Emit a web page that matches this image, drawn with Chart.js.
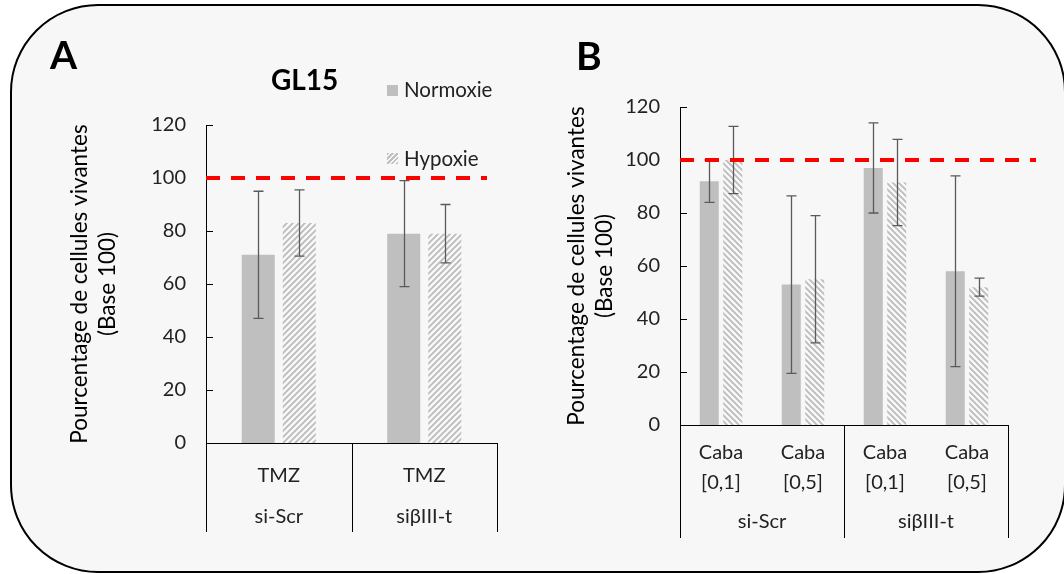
<!DOCTYPE html>
<html>
<head>
<meta charset="utf-8">
<script src="https://cdn.jsdelivr.net/npm/chart.js@4.4.0/dist/chart.umd.min.js"></script>
<style>
  body { margin: 0; background: #fff; font-family: Lato, sans-serif; }
  #wrap { position: relative; width: 1064px; height: 574px; overflow: hidden; }
  #frame { position: absolute; left: 10px; top: 4px; width: 1056px; height: 569px; box-sizing: border-box;
           border: 2.5px solid #000; border-radius: 88px; background: #f7f7f7; }
  .txt { position: absolute; line-height: 1; color: #000; white-space: nowrap; }
  .big { font-size: 39px; font-weight: bold; }
  .leg { font-size: 20.5px; color: #222; }
  .sw { position: absolute; width: 11px; height: 11px; }
  canvas { position: absolute; top: 0; }
</style>
</head>
<body>
<div id="wrap">
  <div id="frame"></div>
  <canvas id="chartA" width="530" height="574" style="left:0"></canvas>
  <canvas id="chartB" width="534" height="574" style="left:530px"></canvas>
  <div class="txt big" style="left:50px;top:35px">A</div>
  <div class="txt big" style="left:576px;top:36px">B</div>
  <div class="txt" style="left:271px;top:65px;font-size:28px;font-weight:bold">GL15</div>
  <div class="sw" style="left:387px;top:85px;background:#bfbfbf"></div>
  <div class="txt leg" style="left:404px;top:79px">Normoxie</div>
  <div class="sw" style="left:387px;top:153px;background:repeating-linear-gradient(135deg,#bfbfbf 0 1.5px,#f7f7f7 1.5px 3.5px)"></div>
  <div class="txt leg" style="left:404px;top:148px">Hypoxie</div>
</div>
<script>
// Panel A - GL15, TMZ
var catsA = ['TMZ', 'TMZ'];
var groupsA = ['si-Scr', 'siβIII-t'];
var normA = [71, 79];
var hypA = [83, 79];
var errNormA = [24, 20];
var errHypA = [12.5, 11];

// Panel B - Cabazitaxel
var catsB = [['Caba', '[0,1]'], ['Caba', '[0,5]'], ['Caba', '[0,1]'], ['Caba', '[0,5]']];
var groupsB = ['si-Scr', 'siβIII-t'];
var normB = [92, 53, 97, 58];
var hypB = [100, 55, 91.5, 52];
var errNormB = [8, 33.5, 17, 36];
var errHypB = [12.7, 24, 16.3, 3.4];

var yMin = 0, yMax = 120, yStep = 20;
var refValue = 100;
var yTitle = ['Pourcentage de cellules vivantes', '(Base 100)'];

// hatched fill for hypoxie bars
function hatch(rising) {
  var c = document.createElement('canvas');
  c.width = c.height = 6;
  var g = c.getContext('2d');
  g.fillStyle = '#f9f9f9';
  g.fillRect(0, 0, 6, 6);
  g.strokeStyle = '#bcbcbc';
  g.lineWidth = 1.9;
  g.beginPath();
  if (rising) {
    g.moveTo(0, 6); g.lineTo(6, 0);
    g.moveTo(-1, 1); g.lineTo(1, -1);
    g.moveTo(5, 7); g.lineTo(7, 5);
  } else {
    g.moveTo(0, 0); g.lineTo(6, 6);
    g.moveTo(-1, 5); g.lineTo(1, 7);
    g.moveTo(5, -1); g.lineTo(7, 1);
  }
  g.stroke();
  return g.createPattern(c, 'repeat');
}

// error bars, inside tick marks, dashed reference line, group labels
var extras = {
  id: 'extras',
  afterDatasetsDraw: function (chart, args, opts) {
    var ctx = chart.ctx, a = chart.chartArea, y = chart.scales.y;
    ctx.save();
    // y tick marks pointing inwards
    ctx.strokeStyle = '#000';
    ctx.lineWidth = 1;
    y.ticks.forEach(function (t) {
      var py = Math.round(y.getPixelForValue(t.value)) + 0.5;
      ctx.beginPath(); ctx.moveTo(a.left, py); ctx.lineTo(a.left + 7, py); ctx.stroke();
    });
    // error bars
    ctx.strokeStyle = '#5a5a5a';
    ctx.lineWidth = 1.3;
    chart.data.datasets.forEach(function (ds, i) {
      chart.getDatasetMeta(i).data.forEach(function (bar, j) {
        var v = ds.data[j], e = opts.errors[i][j];
        var yt = y.getPixelForValue(v + e), yb = y.getPixelForValue(v - e);
        var bx = Math.round(bar.x) + 0.5;
        ctx.beginPath();
        ctx.moveTo(bx, yt); ctx.lineTo(bx, yb);
        ctx.moveTo(bx - 5, yt); ctx.lineTo(bx + 5, yt);
        ctx.moveTo(bx - 5, yb); ctx.lineTo(bx + 5, yb);
        ctx.stroke();
      });
    });
    // reference line at 100
    var yr = y.getPixelForValue(refValue);
    ctx.strokeStyle = '#ff0000';
    ctx.lineWidth = 4;
    ctx.setLineDash([14, 11]);
    ctx.beginPath(); ctx.moveTo(a.left, yr); ctx.lineTo(a.right + opts.overhang, yr); ctx.stroke();
    ctx.restore();
  },
  afterDraw: function (chart, args, opts) {
    var ctx = chart.ctx, a = chart.chartArea, x = chart.scales.x;
    var n = chart.data.labels.length, per = opts.groupSize;
    ctx.save();
    ctx.strokeStyle = '#000';
    ctx.lineWidth = 1;
    var bounds = [a.left];
    for (var k = per; k < n; k += per) {
      bounds.push((x.getPixelForValue(k - 1) + x.getPixelForValue(k)) / 2);
    }
    bounds.push(a.right);
    bounds.forEach(function (bx) {
      bx = Math.round(bx) + 0.5;
      ctx.beginPath(); ctx.moveTo(bx, a.bottom); ctx.lineTo(bx, a.bottom + opts.divLen); ctx.stroke();
    });
    ctx.fillStyle = '#222';
    ctx.font = '20px Lato';
    ctx.textAlign = 'center';
    ctx.textBaseline = 'middle';
    opts.groups.forEach(function (g, gi) {
      var cx = (x.getPixelForValue(gi * per) + x.getPixelForValue(gi * per + per - 1)) / 2;
      ctx.fillText(g, cx, a.bottom + opts.groupY);
    });
    ctx.restore();
  }
};

function makeChart(id, cfg) {
  return new Chart(document.getElementById(id), {
    type: 'bar',
    data: {
      labels: cfg.cats,
      datasets: [
        { label: 'Normoxie', data: cfg.norm, backgroundColor: '#bfbfbf', borderWidth: 0,
          categoryPercentage: cfg.catPct, barPercentage: cfg.barPct },
        { label: 'Hypoxie', data: cfg.hyp, backgroundColor: hatch(cfg.rising), borderWidth: 0,
          categoryPercentage: cfg.catPct, barPercentage: cfg.barPct }
      ]
    },
    options: {
      responsive: false,
      animation: false,
      devicePixelRatio: 1,
      layout: { padding: cfg.padding },
      plugins: {
        legend: { display: false },
        tooltip: { enabled: false },
        extras: { errors: [cfg.errNorm, cfg.errHyp], overhang: cfg.overhang,
                  groups: cfg.groups, groupSize: cfg.groupSize, divLen: cfg.divLen, groupY: cfg.groupY }
      },
      scales: {
        x: {
          grid: { display: false, drawTicks: false },
          border: { display: true, color: '#000', width: 1 },
          ticks: { color: '#222', padding: cfg.tickPad, maxRotation: 0, autoSkip: false,
                   font: { family: 'Lato', size: 20, lineHeight: 1.5 } },
          afterFit: function (s) { s.height = cfg.xHeight; }
        },
        y: {
          min: yMin, max: yMax,
          grid: { display: false, drawTicks: false },
          border: { display: true, color: '#000', width: 1 },
          ticks: { stepSize: yStep, color: '#222', padding: 20, font: { family: 'Lato', size: 20 } },
          title: { display: true, text: yTitle, color: '#000', padding: { top: cfg.titlePad },
                   font: { family: 'Lato', size: 22.5, lineHeight: 1.24 } },
          afterFit: function (s) { s.width = cfg.yWidth; }
        }
      }
    },
    plugins: [extras]
  });
}

makeChart('chartA', {
  cats: catsA, norm: normA, hyp: hypA, errNorm: errNormA, errHyp: errHypA, groups: groupsA,
  groupSize: 1, rising: true, catPct: 0.564, barPct: 0.805,
  padding: { left: 0, top: 125, right: 33, bottom: 0 },
  xHeight: 131, yWidth: 206, titlePad: 66, tickPad: 18, divLen: 89, groupY: 74, overhang: -10
});

makeChart('chartB', {
  cats: catsB, norm: normB, hyp: hypB, errNorm: errNormB, errHyp: errHypB, groups: groupsB,
  groupSize: 2, rising: false, catPct: 0.573, barPct: 0.81,
  padding: { left: 0, top: 107, right: 56, bottom: 0 },
  xHeight: 149, yWidth: 150, titlePad: 33, tickPad: 13, divLen: 113, groupY: 97, overhang: 28
});
</script>
</body>
</html>
